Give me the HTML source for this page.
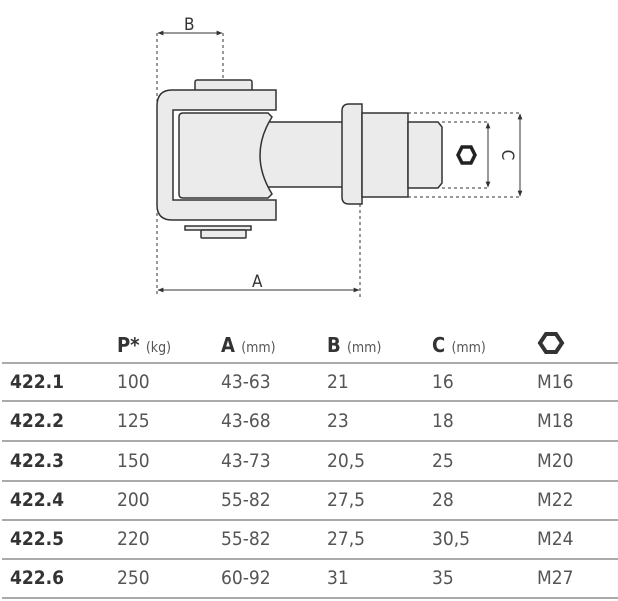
<!DOCTYPE html>
<html><head><meta charset="utf-8"><style>
body{margin:0;background:#fff;width:618px;height:601px;overflow:hidden;position:relative;font-family:"DejaVu Sans Condensed","DejaVu Sans","Liberation Sans",sans-serif;}
.t{position:absolute;font-size:19px;color:#555;line-height:1;}
.b{font-weight:bold;color:#333;}
.h{position:absolute;font-size:20px;font-weight:bold;color:#333;line-height:1;}
.h span{font-weight:normal;font-size:14px;color:#555;}
.ln{position:absolute;left:2px;right:0;height:2px;background:#aaa;}
</style></head><body>
<svg width="618" height="310" style="position:absolute;left:0;top:0" xmlns="http://www.w3.org/2000/svg">
<defs><marker id="a" viewBox="0 0 10 10" refX="9" refY="5" markerWidth="6" markerHeight="6" orient="auto-start-reverse"><path d="M0,1 L10,5 L0,9z" fill="#333"/></marker></defs>
<g stroke="#333" stroke-width="1" fill="none" stroke-dasharray="3,3">
<line x1="157" y1="33" x2="157" y2="297"/>
<line x1="223" y1="33" x2="223" y2="80"/>
<line x1="360" y1="204" x2="360" y2="297"/>
<line x1="442" y1="122" x2="488" y2="122"/>
<line x1="442" y1="188" x2="488" y2="188"/>
<line x1="408" y1="113" x2="520" y2="113"/>
<line x1="408" y1="197" x2="520" y2="197"/>
</g>
<g stroke="#333" stroke-width="1">
<line x1="158" y1="33" x2="222" y2="33" marker-start="url(#a)" marker-end="url(#a)"/>
<line x1="158" y1="290" x2="359" y2="290" marker-start="url(#a)" marker-end="url(#a)"/>
<line x1="488" y1="123" x2="488" y2="187" marker-start="url(#a)" marker-end="url(#a)"/>
<line x1="520" y1="114" x2="520" y2="196" marker-start="url(#a)" marker-end="url(#a)"/>
</g>
<g fill="#ebebeb" stroke="#333" stroke-width="1.5">
<rect x="195" y="80" width="57" height="11" rx="2"/>
<path d="M276,90 H172 Q157,90 157,106 V205 Q157,220 172,220 H276 V200 H173 V110 H276 Z"/>
<rect x="185" y="226" width="66" height="4"/>
<rect x="201" y="230" width="45" height="8" rx="1"/>
<rect x="253" y="122" width="90" height="65"/>
<path d="M183,113 H268 L272,117 Q248,155 272,194 L268,198 H183 Q179,198 179,194 V117 Q179,113 183,113 Z"/>
<path d="M349,104 H362 V204 H349 Q342,204 342,197 V111 Q342,104 349,104 Z"/>
<rect x="362" y="113" width="46" height="84"/>
<path d="M408,122 H438 L442,127 V183 L438,188 H408 Z"/>
</g>
<polygon points="458,155 462,147 471,147 475,155 471,163 462,163" fill="#fff" stroke="#222" stroke-width="3.5"/>
<g font-family="DejaVu Sans Condensed, Liberation Sans, sans-serif" font-size="17" fill="#333">
<text x="184" y="30">B</text>
<text x="252" y="287">A</text>
<text transform="translate(502,155) rotate(90)" text-anchor="middle">C</text>
</g>
</svg>
<svg width="30" height="30" style="position:absolute;top:330px;left:537px"><polygon points="3,13 9,4 19,4 25,13 19,22 9,22" fill="#fff" stroke="#333" stroke-width="4"/></svg>
<div class="h" style="left:117px;top:335px">P* <span>(kg)</span></div>
<div class="h" style="left:221px;top:335px">A <span>(mm)</span></div>
<div class="h" style="left:327px;top:335px">B <span>(mm)</span></div>
<div class="h" style="left:432px;top:335px">C <span>(mm)</span></div>
<div class="ln" style="top:362px"></div>
<div class="ln" style="top:400px"></div>
<div class="ln" style="top:440px"></div>
<div class="ln" style="top:480px"></div>
<div class="ln" style="top:519px"></div>
<div class="ln" style="top:558px"></div>
<div class="ln" style="top:597px"></div>

<div class="t b" style="left:10px;top:373px">422.1</div><div class="t" style="left:117px;top:373px">100</div><div class="t" style="left:221px;top:373px">43-63</div><div class="t" style="left:327px;top:373px">21</div><div class="t" style="left:432px;top:373px">16</div><div class="t" style="left:537px;top:373px">M16</div>
<div class="t b" style="left:10px;top:412px">422.2</div><div class="t" style="left:117px;top:412px">125</div><div class="t" style="left:221px;top:412px">43-68</div><div class="t" style="left:327px;top:412px">23</div><div class="t" style="left:432px;top:412px">18</div><div class="t" style="left:537px;top:412px">M18</div>
<div class="t b" style="left:10px;top:452px">422.3</div><div class="t" style="left:117px;top:452px">150</div><div class="t" style="left:221px;top:452px">43-73</div><div class="t" style="left:327px;top:452px">20,5</div><div class="t" style="left:432px;top:452px">25</div><div class="t" style="left:537px;top:452px">M20</div>
<div class="t b" style="left:10px;top:491px">422.4</div><div class="t" style="left:117px;top:491px">200</div><div class="t" style="left:221px;top:491px">55-82</div><div class="t" style="left:327px;top:491px">27,5</div><div class="t" style="left:432px;top:491px">28</div><div class="t" style="left:537px;top:491px">M22</div>
<div class="t b" style="left:10px;top:530px">422.5</div><div class="t" style="left:117px;top:530px">220</div><div class="t" style="left:221px;top:530px">55-82</div><div class="t" style="left:327px;top:530px">27,5</div><div class="t" style="left:432px;top:530px">30,5</div><div class="t" style="left:537px;top:530px">M24</div>
<div class="t b" style="left:10px;top:569px">422.6</div><div class="t" style="left:117px;top:569px">250</div><div class="t" style="left:221px;top:569px">60-92</div><div class="t" style="left:327px;top:569px">31</div><div class="t" style="left:432px;top:569px">35</div><div class="t" style="left:537px;top:569px">M27</div>
</body></html>
